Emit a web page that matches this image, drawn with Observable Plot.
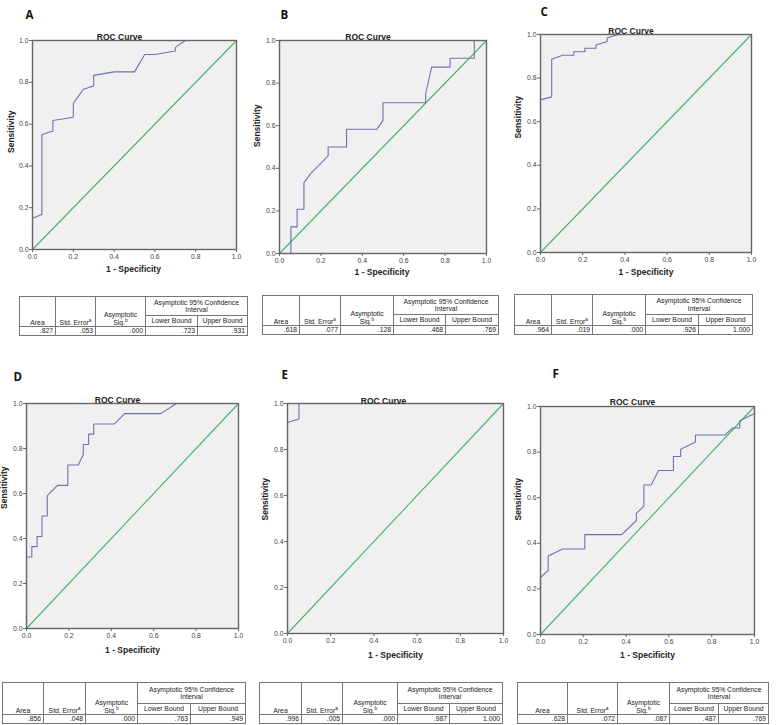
<!DOCTYPE html>
<html><head><meta charset="utf-8">
<script src="https://cdn.jsdelivr.net/npm/d3@7"></script>
<script src="https://cdn.jsdelivr.net/npm/@observablehq/plot@0.6"></script>
<style>
html,body{margin:0;padding:0;background:#fff;}
#root{position:relative;width:778px;height:725px;overflow:hidden;background:#fff;}
.panel{position:absolute;}
table.spss{position:absolute;border-collapse:collapse;table-layout:fixed;font-family:"Liberation Sans Narrow","Liberation Sans",Arial,sans-serif;font-size:6.8px;color:#222;border:1.4px solid #222;}
table.spss td{border:0.8px solid #777;padding:0 2px;line-height:7.4px;overflow:hidden;white-space:nowrap;}
table.spss td.h{text-align:center;vertical-align:bottom;white-space:normal;}
table.spss td.v{text-align:right;vertical-align:middle;}
table.spss sup{font-size:4.8px;line-height:0;}
</style></head>
<body><div id="root"></div>
<script>
// ---------- data ----------
const panelLetters = ["A","B","C","D","E","F"];
const chartTitle = "ROC Curve";
const xAxisLabel = "1 - Specificity";
const yAxisLabel = "Sensitivity";
const axisTicks = [0, 0.2, 0.4, 0.6, 0.8, 1.0];
const referenceLine = [[0,0],[1,1]];

const rocA_fpr = [0, 0, 0.046, 0.046, 0.1, 0.1, 0.2, 0.2, 0.25, 0.3, 0.3, 0.4, 0.5, 0.55, 0.6, 0.7, 0.7, 0.75, 1];
const rocA_tpr = [0, 0.15, 0.167, 0.55, 0.567, 0.617, 0.633, 0.70, 0.767, 0.783, 0.833, 0.85, 0.85, 0.933, 0.933, 0.95, 0.967, 1, 1];

const rocB_fpr = [0, 0.055, 0.055, 0.085, 0.085, 0.118, 0.118, 0.15, 0.235, 0.235, 0.324, 0.324, 0.47, 0.5, 0.5, 0.706, 0.706, 0.735, 0.824, 0.824, 0.941, 0.941, 1];
const rocB_tpr = [0, 0, 0.125, 0.125, 0.208, 0.208, 0.333, 0.375, 0.458, 0.5, 0.5, 0.583, 0.583, 0.625, 0.708, 0.708, 0.75, 0.875, 0.875, 0.917, 0.917, 1, 1];

const rocC_fpr = [0, 0, 0.053, 0.053, 0.105, 0.158, 0.158, 0.21, 0.21, 0.263, 0.263, 0.316, 0.316, 0.368, 1];
const rocC_tpr = [0, 0.70, 0.714, 0.886, 0.905, 0.905, 0.921, 0.921, 0.937, 0.937, 0.952, 0.968, 0.984, 1, 1];

const rocD_fpr = [0, 0, 0.025, 0.025, 0.05, 0.05, 0.073, 0.073, 0.098, 0.098, 0.146, 0.195, 0.195, 0.244, 0.268, 0.268, 0.293, 0.293, 0.317, 0.317, 0.415, 0.463, 0.634, 0.707, 1];
const rocD_tpr = [0, 0.318, 0.318, 0.364, 0.364, 0.409, 0.409, 0.5, 0.5, 0.591, 0.636, 0.636, 0.727, 0.727, 0.773, 0.818, 0.818, 0.864, 0.864, 0.909, 0.909, 0.955, 0.955, 1, 1];

const rocE_fpr = [0, 0, 0.053, 0.053, 1];
const rocE_tpr = [0, 0.917, 0.933, 1, 1];

const rocF_fpr = [0, 0, 0.036, 0.036, 0.103, 0.207, 0.207, 0.379, 0.448, 0.448, 0.483, 0.483, 0.517, 0.552, 0.621, 0.621, 0.655, 0.655, 0.724, 0.724, 0.862, 0.897, 0.931, 0.931, 1, 1];
const rocF_tpr = [0, 0.25, 0.281, 0.344, 0.375, 0.375, 0.438, 0.438, 0.5, 0.531, 0.563, 0.656, 0.656, 0.719, 0.719, 0.781, 0.781, 0.813, 0.844, 0.875, 0.875, 0.906, 0.906, 0.938, 0.969, 1];

const rocFpr = [rocA_fpr, rocB_fpr, rocC_fpr, rocD_fpr, rocE_fpr, rocF_fpr];
const rocTpr = [rocA_tpr, rocB_tpr, rocC_tpr, rocD_tpr, rocE_tpr, rocF_tpr];

const areaValues       = [".827", ".618", ".964", ".856", ".996", ".628"];
const stdErrorValues   = [".053", ".077", ".019", ".048", ".005", ".072"];
const sigValues        = [".000", ".128", ".000", ".000", ".000", ".087"];
const lowerBoundValues = [".723", ".468", ".926", ".763", ".987", ".487"];
const upperBoundValues = [".931", ".769", "1.000", ".949", "1.000", ".769"];

// ---------- layout ----------
const layout = [
  {sx:0,   sy:0,   sw:252, sh:285, ml:32, mt:40, mr:16, mb:36, title:[-15,-7], letter:[-7,-30], ylab:[-21,8],  xlab:[-1,22],
   table:{left:19,  top:296, widths:[36,40,50,52,50], heights:[19,11,9]}},
  {sx:252, sy:0,   sw:254, sh:285, ml:27, mt:40, mr:20, mb:32, title:[-15,-7], letter:[1,-30],  ylab:[-22,0],  xlab:[-1,21],
   table:{left:262, top:295, widths:[37,41,53,52,53], heights:[19,11,9]}},
  {sx:506, sy:0,   sw:272, sh:285, ml:34, mt:34, mr:27, mb:33, title:[-15,-7], letter:[0,-27],  ylab:[-22,-5], xlab:[0,22],
   table:{left:514, top:294, widths:[37,41,53,53,54], heights:[20,11,9]}},
  {sx:0,   sy:360, sw:252, sh:315, ml:26, mt:43, mr:14, mb:47, title:[-15,-7], letter:[-13,-31],ylab:[-22,-7], xlab:[0,24],
   table:{left:2,   top:682, widths:[41,42,52,53,55], heights:[21,11,9]}},
  {sx:252, sy:360, sw:254, sh:315, ml:35, mt:43, mr:3,  mb:42, title:[-12,-6], letter:[-6,-33], ylab:[-22,2],  xlab:[0,24],
   table:{left:259, top:682, widths:[42,41,55,52,53], heights:[21,11,9]}},
  {sx:506, sy:360, sw:272, sh:315, ml:34, mt:46, mr:24, mb:41, title:[-15,-8], letter:[12,-37], ylab:[-22,0],  xlab:[0,23],
   table:{left:517, top:682, widths:[50,50,52,49,50], heights:[21,11,9]}}
];

const root = document.getElementById("root");
const fmt = d3.format(".1f");
const BLUE = "#6b74b2", GREEN = "#46b56a";

panelLetters.forEach((letter, i) => {
  const L = layout[i];
  const pts = rocFpr[i].map((x, j) => ({x, y: rocTpr[i][j]}));
  const chart = Plot.plot({
    width: L.sw, height: L.sh,
    marginLeft: L.ml, marginTop: L.mt, marginRight: L.mr, marginBottom: L.mb,
    style: {background: "transparent", fontFamily: "'Liberation Sans', Arial, sans-serif", fontSize: "6.8px", color: "#444", overflow: "visible"},
    x: {domain: [0, 1]},
    y: {domain: [0, 1]},
    marks: [
      Plot.frame({fill: "#f0f0f0", stroke: null}),
      Plot.line(referenceLine, {x: d => d[0], y: d => d[1], stroke: GREEN, strokeWidth: 1.1}),
      Plot.line(pts, {x: "x", y: "y", stroke: BLUE, strokeWidth: 1.1}),
      Plot.frame({stroke: "#666", strokeWidth: 1.4}),
      Plot.axisX({ticks: axisTicks, tickFormat: fmt, tickSize: 3, tickPadding: 2, label: null, stroke: "#666"}),
      Plot.axisY({ticks: axisTicks, tickFormat: fmt, tickSize: 3, tickPadding: 1, label: null, stroke: "#666"}),
      Plot.text([chartTitle], {text: d => d, frameAnchor: "top", dx: L.title[0], dy: L.title[1], fontSize: 8.5, fontWeight: "bold", fill: "#222"}),
      Plot.text([letter], {text: d => d, frameAnchor: "top-left", textAnchor: "start", dx: L.letter[0], dy: L.letter[1], fontSize: 11.5, fontWeight: "bold", fill: "#111", fontFamily: "'Open Sans', sans-serif"}),
      Plot.text([yAxisLabel], {text: d => d, frameAnchor: "left", rotate: -90, dx: L.ylab[0], dy: L.ylab[1], fontSize: 8.5, fontWeight: "bold", fill: "#222"}),
      Plot.text([xAxisLabel], {text: d => d, frameAnchor: "bottom", dx: L.xlab[0], dy: L.xlab[1], fontSize: 8.5, fontWeight: "bold", fill: "#222"})
    ]
  });
  const wrap = document.createElement("div");
  wrap.className = "panel";
  wrap.style.left = L.sx + "px";
  wrap.style.top = L.sy + "px";
  wrap.appendChild(chart);
  root.appendChild(wrap);

  // statistics table
  const T = L.table;
  const tbl = document.createElement("table");
  tbl.className = "spss";
  tbl.style.left = T.left + "px";
  tbl.style.top = T.top + "px";
  tbl.style.width = d3.sum(T.widths) + "px";
  const cg = T.widths.map(w => `<col style="width:${w}px">`).join("");
  tbl.innerHTML =
    `<colgroup>${cg}</colgroup>` +
    `<tr style="height:${T.heights[0]}px">` +
      `<td class="h" rowspan="2">Area</td>` +
      `<td class="h" rowspan="2">Std. Error<sup>a</sup></td>` +
      `<td class="h" rowspan="2">Asymptotic<br>Sig.<sup>b</sup></td>` +
      `<td class="h" colspan="2" style="vertical-align:middle">Asymptotic 95% Confidence<br>Interval</td>` +
    `</tr>` +
    `<tr style="height:${T.heights[1]}px"><td class="h" style="vertical-align:middle">Lower Bound</td><td class="h" style="vertical-align:middle">Upper Bound</td></tr>` +
    `<tr style="height:${T.heights[2]}px">` +
      [areaValues[i], stdErrorValues[i], sigValues[i], lowerBoundValues[i], upperBoundValues[i]].map(v => `<td class="v">${v}</td>`).join("") +
    `</tr>`;
  root.appendChild(tbl);
});
</script>
</body></html>
